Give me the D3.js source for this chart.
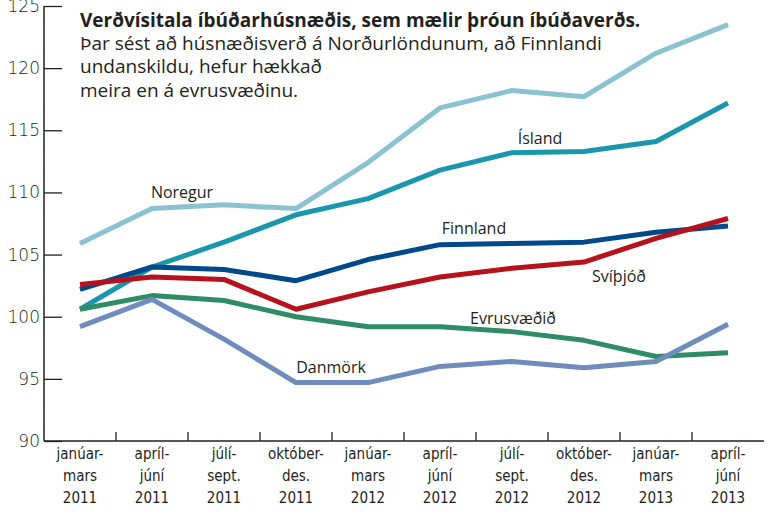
<!DOCTYPE html>
<html>
<head>
<meta charset="utf-8">
<script src="https://cdn.jsdelivr.net/npm/d3@7"></script>
<style>
  body { margin: 0; background: #fff; }
  text { fill: #231f20; }
</style>
</head>
<body>
<script>
"use strict";

let width = 782;
let height = 514;

// quarters
let quarters = [
  ["janúar-", "mars", "2011"], ["apríl-", "júní", "2011"], ["júlí-", "sept.", "2011"], ["október-", "des.", "2011"],
  ["janúar-", "mars", "2012"], ["apríl-", "júní", "2012"], ["júlí-", "sept.", "2012"], ["október-", "des.", "2012"],
  ["janúar-", "mars", "2013"], ["apríl-", "júní", "2013"]
];
let yTicks = [90, 95, 100, 105, 110, 115, 120, 125];

let noregur    = [105.9, 108.7, 109.0, 108.7, 112.4, 116.8, 118.2, 117.7, 121.2, 123.5];
let island     = [100.6, 104.0, 106.0, 108.2, 109.5, 111.8, 113.2, 113.3, 114.1, 117.2];
let finnland   = [102.2, 104.0, 103.8, 102.9, 104.6, 105.8, 105.9, 106.0, 106.8, 107.3];
let svithjod   = [102.6, 103.2, 103.0, 100.6, 102.0, 103.2, 103.9, 104.4, 106.3, 107.9];
let evrusvaedi = [100.6, 101.7, 101.3, 100.0, 99.2, 99.2, 98.8, 98.1, 96.8, 97.1];
let danmork    = [99.2, 101.4, 98.2, 94.7, 94.7, 96.0, 96.4, 95.9, 96.4, 99.4];

let series = [
  { name: "Noregur", values: noregur, color: "#8ac2d2", lx: 182, ly: 198 },
  { name: "Ísland", values: island, color: "#1b97ad", lx: 540, ly: 144 },
  { name: "Finnland", values: finnland, color: "#00498a", lx: 474, ly: 234 },
  { name: "Svíþjóð", values: svithjod, color: "#b6121d", lx: 619, ly: 282 },
  { name: "Evrusvæðið", values: evrusvaedi, color: "#2f8c66", lx: 513, ly: 324 },
  { name: "Danmörk", values: danmork, color: "#6f8cbd", lx: 331, ly: 373 }
];

let svg = d3.select("body").append("svg").attr("width", width).attr("height", height);

let x = d3.scaleBand()
  .domain(d3.range(quarters.length))
  .range([44, 764]);

let y = d3.scaleLinear()
  .domain([90, 125])
  .range([441, 6]);

let narrow = "'DejaVu Sans', sans-serif";

// y axis
let yAxis = svg.append("g")
  .attr("transform", "translate(44,0)")
  .call(d3.axisRight(y).tickValues(yTicks).tickSize(18).tickFormat(d3.format("d")));
yAxis.select(".domain").remove();
yAxis.selectAll(".tick line").attr("stroke", "#231f20").attr("stroke-width", 1.3);
yAxis.selectAll(".tick text")
  .attr("x", -4)
  .attr("text-anchor", "end")
  .style("font-family", narrow)
  .style("font-stretch", "condensed")
  .style("font-weight", "300")
  .style("font-size", "17px");
svg.append("line")
  .attr("x1", 44).attr("x2", 44)
  .attr("y1", y(125)).attr("y2", y(90))
  .attr("stroke", "#231f20").attr("stroke-width", 1.5);

// x axis
svg.append("line")
  .attr("x1", 44).attr("x2", 764)
  .attr("y1", y(90)).attr("y2", y(90))
  .attr("stroke", "#231f20").attr("stroke-width", 1.5);
svg.append("g").selectAll("line")
  .data(d3.range(1, quarters.length))
  .enter()
  .append("line")
  .attr("x1", d => x(d)).attr("x2", d => x(d))
  .attr("y1", y(90)).attr("y2", y(90) - 9)
  .attr("stroke", "#231f20").attr("stroke-width", 1.3);

let xl = svg.append("g").selectAll("text")
  .data(quarters)
  .enter()
  .append("text")
  .attr("text-anchor", "middle")
  .style("font-family", narrow)
  .style("font-stretch", "condensed")
  .style("font-size", "15px");
xl.each(function (d, i) {
  let t = d3.select(this);
  d.forEach(function (s, j) {
    t.append("tspan")
      .attr("x", x(i) + x.bandwidth() / 2)
      .attr("y", 459 + j * 22)
      .text(s);
  });
});

// lines
let line = d3.line()
  .x((d, i) => x(i) + x.bandwidth() / 2)
  .y(d => y(d));

svg.append("g").selectAll("path")
  .data(series)
  .enter()
  .append("path")
  .attr("fill", "none")
  .attr("stroke", d => d.color)
  .attr("stroke-width", 5)
  .attr("stroke-linejoin", "round")
  .attr("d", d => line(d.values));

svg.append("g").selectAll("text")
  .data(series)
  .enter()
  .append("text")
  .attr("x", d => d.lx)
  .attr("y", d => d.ly)
  .attr("text-anchor", "middle")
  .style("font-family", "'Open Sans', sans-serif")
  .style("font-size", "16px")
  .text(d => d.name);

// title
let title = svg.append("text")
  .style("font-family", "'Open Sans', sans-serif")
  .style("font-size", "19px");
title.append("tspan")
  .attr("x", 80).attr("y", 26.5)
  .style("font-weight", "bold")
  .text("Verðvísitala íbúðarhúsnæðis, sem mælir þróun íbúðaverðs.");
let sub = ["Þar sést að húsnæðisverð á Norðurlöndunum, að Finnlandi", "undanskildu, hefur hækkað", "meira en á evrusvæðinu."];
sub.forEach(function (s, j) {
  title.append("tspan")
    .attr("x", 80).attr("y", 50 + j * 23.3)
    .text(s);
});
</script>
</body>
</html>
